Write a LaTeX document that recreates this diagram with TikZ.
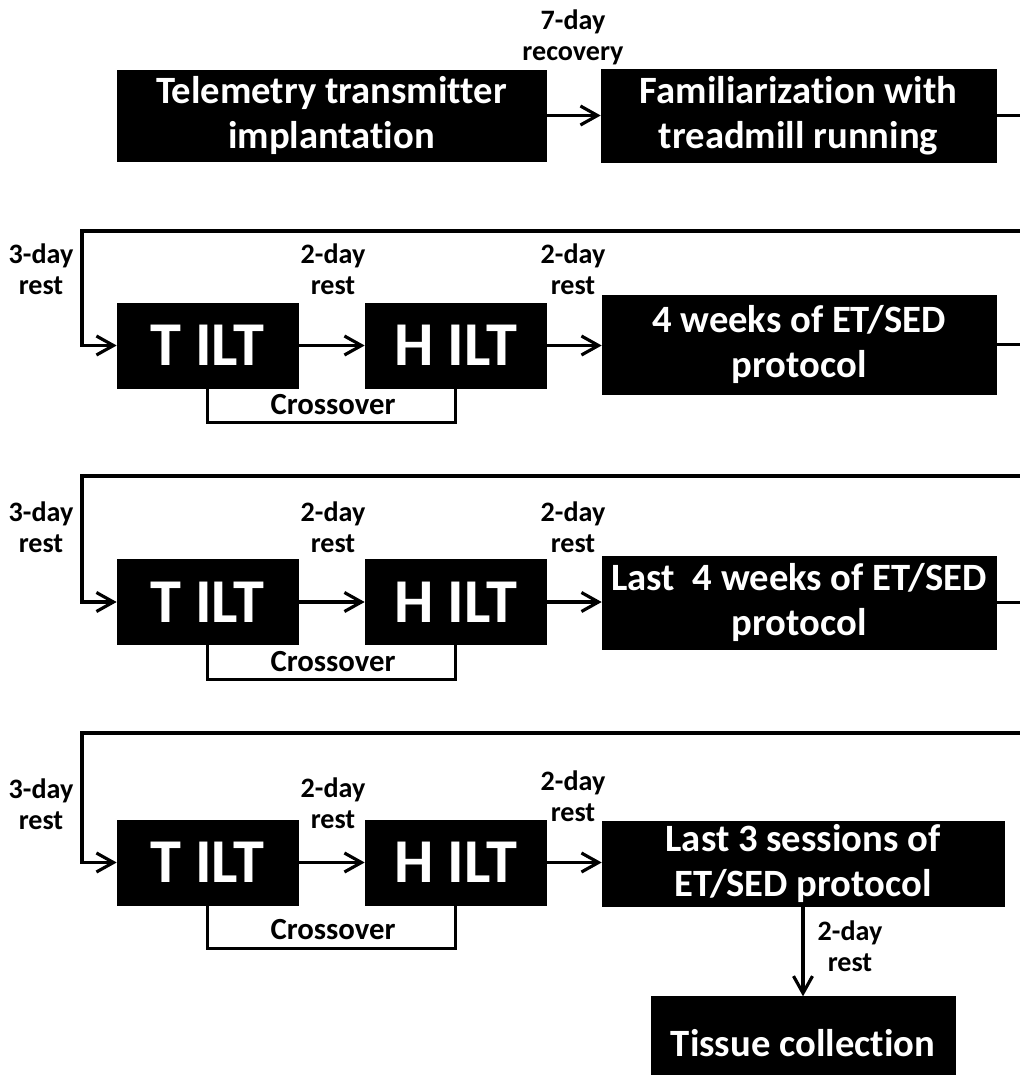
\documentclass[tikz,border=0pt]{standalone}
\usepackage{fontspec}
\setmainfont{Carlito}[Ligatures=NoCommon]
\usetikzlibrary{arrows.meta, positioning}

\begin{document}
\begin{tikzpicture}[
    x=0.02cm, y=-0.02cm,
    line width=1.8pt,
    >={Straight Barb[length=3.4mm,width=3.8mm]},
    stage/.style={rectangle, draw=black, line width=0.4pt, fill=black, text=white, align=center, inner sep=0pt, font=\bfseries\fontsize{22}{25.5}\selectfont},
    ilt/.style={stage, minimum width=3.62cm, minimum height=1.7cm, font=\bfseries\fontsize{35.5}{40}\selectfont},
    note/.style={align=center, inner sep=0pt, font=\bfseries\fontsize{16}{17.6}\selectfont},
    cross/.style={note, font=\bfseries\fontsize{17.5}{20}\selectfont}
  ]
    \useasboundingbox (0,0) rectangle (1019,1075);
    \coordinate (rightedge) at (1030,0);

    % first row
    \node[stage, minimum width=8.58cm, minimum height=1.82cm] (tele) at (331.5,115.5) {Telemetry transmitter\\implantation};
    \node[stage, minimum width=7.9cm, minimum height=1.86cm] (fam) at (798.5,115.5) {Familiarization with\\treadmill running};
    \node[note] (recov) at (573,37.5) {7-day\\recovery};
    \draw[->] (tele) -- (fam);
    \draw (fam.east) -- (fam.east -| rightedge);

    % second row
    \node[ilt] (tilt1) at (207.5,345.5) {T ILT};
    \node[ilt] (hilt1) at (455.5,345.5) {H ILT};
    \node[stage, minimum width=7.88cm, minimum height=1.98cm] (weeks) at (799,344.5) {4 weeks of ET/SED\\protocol};
    \node[note] (rest1a) at (41,269) {3-day\\rest};
    \node[note] (rest1b) at (333,269) {2-day\\rest};
    \node[note] (rest1c) at (573,269) {2-day\\rest};
    \node[cross] (cross1) at (333,405) {Crossover};
    \coordinate (back1) at (1030,231);
    \coordinate (turn1) at (82,231);
    \draw[->] (back1) -- (turn1) |- (tilt1.west);
    \draw[->] (tilt1) -- (hilt1);
    \draw[->] (hilt1) -- (hilt1 -| weeks.west);
    \draw (tilt1.south) -- ++(0,34) -| (hilt1.south);
    \draw (weeks.east) -- (weeks.east -| rightedge);

    % third row
    \node[ilt] (tilt2) at (207.5,602) {T ILT};
    \node[ilt] (hilt2) at (455.5,602) {H ILT};
    \node[stage, minimum width=7.88cm, minimum height=1.86cm] (lastweeks) at (799,602.5) {Last\ \ 4 weeks of ET/SED\\protocol};
    \node[note] (rest2a) at (41,527.5) {3-day\\rest};
    \node[note] (rest2b) at (333,527.5) {2-day\\rest};
    \node[note] (rest2c) at (573,527.5) {2-day\\rest};
    \node[cross] (cross2) at (333,662) {Crossover};
    \coordinate (back2) at (1030,476);
    \coordinate (turn2) at (82,476);
    \draw[->] (back2) -- (turn2) |- (tilt2.west);
    \draw[->] (tilt2) -- (hilt2);
    \draw[->] (hilt2) -- (hilt2 -| lastweeks.west);
    \draw (tilt2.south) -- ++(0,35) -| (hilt2.south);
    \draw (lastweeks.east) -- (lastweeks.east -| rightedge);

    % fourth row
    \node[ilt] (tilt3) at (207.5,862.5) {T ILT};
    \node[ilt] (hilt3) at (455.5,862.5) {H ILT};
    \node[stage, minimum width=8.04cm, minimum height=1.7cm] (lastsess) at (803,863.5) {Last 3 sessions of\\ET/SED protocol};
    \node[stage, minimum width=6.08cm, minimum height=1.84cm, below=1.8cm of lastsess] (tissue) {Tissue collection};
    \node[note] (rest3a) at (41,804) {3-day\\rest};
    \node[note] (rest3b) at (333,803) {2-day\\rest};
    \node[note] (rest3c) at (573,796.5) {2-day\\rest};
    \node[note] (rest3d) at (850,946) {2-day\\rest};
    \node[cross] (cross3) at (333,930) {Crossover};
    \coordinate (back3) at (1030,733);
    \coordinate (turn3) at (82,733);
    \draw[->] (back3) -- (turn3) |- (tilt3.west);
    \draw[->] (tilt3) -- (hilt3);
    \draw[->] (hilt3) -- (hilt3 -| lastsess.west);
    \draw (tilt3.south) -- ++(0,43) -| (hilt3.south);
    \draw[->] (lastsess) -- (tissue);
  \end{tikzpicture}
\end{document}
